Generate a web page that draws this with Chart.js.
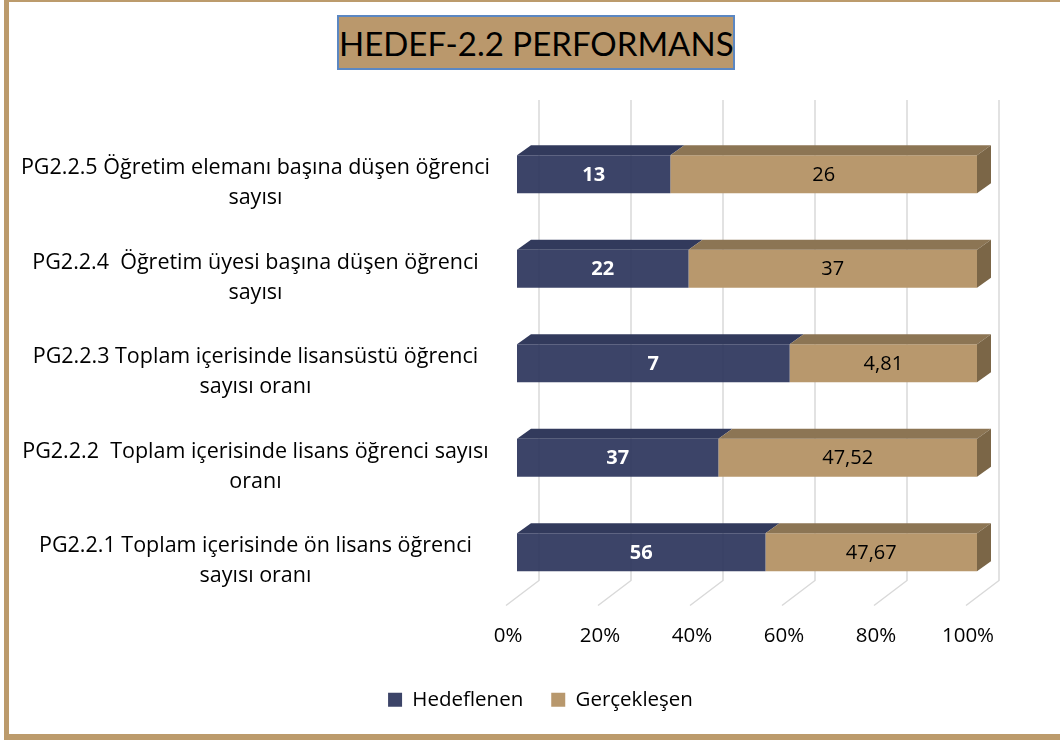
<!DOCTYPE html>
<html><head><meta charset="utf-8">
<script src="https://cdn.jsdelivr.net/npm/chart.js@4/dist/chart.umd.min.js"></script>
<style>
html,body{margin:0;padding:0;background:#fff;}
#wrap{position:relative;width:1060px;height:740px;overflow:hidden;}
#frame{position:absolute;left:4px;top:0;width:1060px;height:740px;border-left:5px solid #BC9B6C;border-top:2px solid #BC9B6C;border-bottom:6px solid #BC9B6C;box-sizing:border-box;}
#title{position:absolute;left:337px;top:15px;width:398px;height:55px;box-sizing:border-box;background:#BA986C;border:2px solid #5B87C2;font-family:Lato,sans-serif;font-size:33px;color:#000;text-align:center;line-height:53px;white-space:nowrap;}
canvas{position:absolute;left:0;top:0;}
</style></head>
<body><div id="wrap"><div id="frame"></div><canvas id="c" width="1060" height="740"></canvas><div id="title">HEDEF-2.2 PERFORMANS</div></div>
<script>
const categories = [
  ["PG2.2.5 Öğretim elemanı başına düşen öğrenci","sayısı"],
  ["PG2.2.4  Öğretim üyesi başına düşen öğrenci","sayısı"],
  ["PG2.2.3 Toplam içerisinde lisansüstü öğrenci","sayısı oranı"],
  ["PG2.2.2  Toplam içerisinde lisans öğrenci sayısı","oranı"],
  ["PG2.2.1 Toplam içerisinde ön lisans öğrenci","sayısı oranı"]
];
const hedeflenen = [13, 22, 7, 37, 56];
const gerceklesen = [26, 37, 4.81, 47.52, 47.67];
const seriesNames = ["Hedeflenen", "Gerçekleşen"];
const tickLabels = ["0%","20%","40%","60%","80%","100%"];

const totals = hedeflenen.map((v,i)=>v+gerceklesen[i]);
const pctH = hedeflenen.map((v,i)=>v/totals[i]*100);
const pctG = gerceklesen.map((v,i)=>v/totals[i]*100);
const raw = [hedeflenen, gerceklesen];
const fmt = v => String(v).replace('.', ',');

const NAVY = 'rgba(45,54,93,0.93)', TAN = '#B8986D';
const NAVY_TOP = '#323A5C', TAN_TOP = '#8C7554', TAN_SIDE = '#7B6647';
const DX = 14, DY = 10;
const FONT = '"Open Sans", Lato, sans-serif';

const legendShift = {
  id: 'legendShift',
  afterLayout(chart) {
    const lg = chart.legend;
    if (lg) { lg.left += 47; lg.right += 47; }
  }
};

const threeD = {
  id: 'threeD',
  beforeDatasetsDraw(chart) {
    const ctx = chart.ctx, xs = chart.scales.x, ca = chart.chartArea;
    ctx.save();
    ctx.strokeStyle = '#D9D9D9'; ctx.lineWidth = 1.5;
    for (let v = 0; v <= 100; v += 20) {
      const px = xs.getPixelForValue(v);
      ctx.beginPath();
      ctx.moveTo(px + 22, ca.top - 27);
      ctx.lineTo(px + 22, ca.bottom - 19);
      ctx.lineTo(px - 11, ca.bottom + 6);
      ctx.stroke();
    }
    ctx.restore();
  },
  afterDatasetsDraw(chart) {
    const ctx = chart.ctx;
    ctx.save();
    const m0 = chart.getDatasetMeta(0).data, m1 = chart.getDatasetMeta(1).data;
    m0.forEach((b0, i) => {
      const b1 = m1[i];
      const top = b0.y - b0.height / 2, bot = b0.y + b0.height / 2;
      const x0 = b0.base, x1 = b0.x, x2 = b1.x;
      const face = (a, b, col) => {
        ctx.fillStyle = col; ctx.beginPath();
        ctx.moveTo(a, top); ctx.lineTo(b, top); ctx.lineTo(b + DX, top - DY); ctx.lineTo(a + DX, top - DY);
        ctx.closePath(); ctx.fill();
      };
      face(x0, x1, NAVY_TOP);
      face(x1, x2, TAN_TOP);
      ctx.fillStyle = TAN_SIDE; ctx.beginPath();
      ctx.moveTo(x2, top); ctx.lineTo(x2 + DX, top - DY); ctx.lineTo(x2 + DX, bot - DY); ctx.lineTo(x2, bot);
      ctx.closePath(); ctx.fill();
      ctx.textAlign = 'center'; ctx.textBaseline = 'middle';
      ctx.font = 'bold 20px ' + FONT; ctx.fillStyle = '#fff';
      ctx.fillText(fmt(raw[0][i]), (x0 + x1) / 2, b0.y + 1);
      ctx.font = '20px ' + FONT; ctx.fillStyle = '#000';
      ctx.fillText(fmt(raw[1][i]), (x1 + x2) / 2, b0.y + 1);
    });
    ctx.restore();
  }
};

new Chart(document.getElementById('c'), {
  type: 'bar',
  data: {
    labels: categories,
    datasets: [
      { label: seriesNames[0], data: pctH, backgroundColor: NAVY, borderWidth: 0 },
      { label: seriesNames[1], data: pctG, backgroundColor: TAN, borderWidth: 0 }
    ]
  },
  options: {
    indexAxis: 'y',
    responsive: false,
    animation: false,
    layout: { padding: { top: 127, right: 83, left: 10, bottom: 20 } },
    datasets: { bar: { barPercentage: 0.4, categoryPercentage: 1.0 } },
    scales: {
      x: {
        stacked: true, min: 0, max: 100,
        grid: { display: false, drawTicks: false },
        border: { display: false },
        ticks: { stepSize: 20, padding: 24, labelOffset: -9, color: '#000',
          font: { family: FONT, size: 20.5 },
          callback: (v) => tickLabels[v / 20] },
        afterFit: (s) => { s.height = 62; }
      },
      y: {
        stacked: true,
        grid: { display: false, drawTicks: false },
        border: { display: false },
        ticks: { crossAlign: 'center', padding: 27, labelOffset: 9, color: '#000',
          font: { family: FONT, size: 21.5, lineHeight: 1.4 } },
        afterFit: (s) => { s.width = 507; }
      }
    },
    plugins: {
      legend: {
        position: 'bottom',
        labels: { boxWidth: 14, boxHeight: 14, padding: 28, color: '#000', font: { family: FONT, size: 20.5 } }
      },
      tooltip: { enabled: false }
    }
  },
  plugins: [threeD, legendShift]
});
</script>
</body></html>
